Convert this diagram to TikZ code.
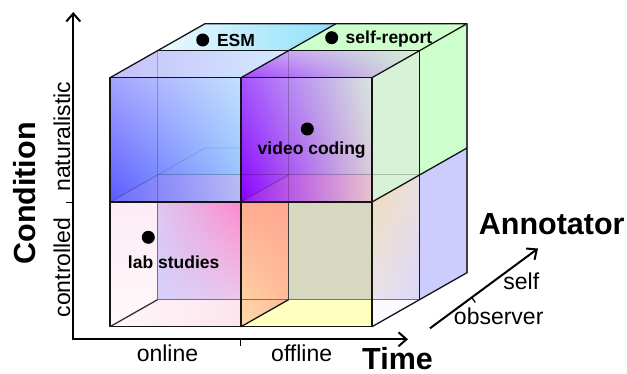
\documentclass[tikz,border=0pt]{standalone}
\usepackage{fontspec}
\setmainfont{Liberation Sans}
\usetikzlibrary{arrows.meta,shadings}
\definecolor{esmR}{HTML}{8EE0FA}
\definecolor{esmL}{HTML}{EEF9FF}
\definecolor{srgreen}{HTML}{CCFFCC}
\definecolor{lav}{HTML}{CCCCFF}
\definecolor{olive}{HTML}{D8D8C0}
\definecolor{yell}{HTML}{FFFFC0}
\definecolor{c1}{HTML}{C4C0FA}
\definecolor{c2}{HTML}{D4EAFF}
\definecolor{c3}{HTML}{A040FF}
\definecolor{c4}{HTML}{C890FF}
\definecolor{c5}{HTML}{D0F4D0}
\definecolor{c6}{HTML}{D8E8D8}
\definecolor{vgreen}{HTML}{D8F2D8}
\definecolor{r1}{HTML}{F0DCB4}
\definecolor{r2}{HTML}{ECE0E0}
\definecolor{r3}{HTML}{E8E4F8}
\definecolor{r4}{HTML}{D6D6FF}
\definecolor{b1}{HTML}{A4A4FF}
\definecolor{b2}{HTML}{C4E0FF}
\definecolor{b3}{HTML}{5A5AFF}
\definecolor{b4}{HTML}{8CC0FF}
\definecolor{bf1}{HTML}{7070FF}
\definecolor{bf2}{HTML}{C8B8F0}
\definecolor{v1}{HTML}{A455FF}
\definecolor{v2}{HTML}{D8E6DC}
\definecolor{v3}{HTML}{8800FF}
\definecolor{v4}{HTML}{D8C8D8}
\definecolor{vf1}{HTML}{A020F0}
\definecolor{vf2}{HTML}{D070C8}
\definecolor{vf3}{HTML}{EAC2CC}
\definecolor{l1}{HTML}{DCC8F2}
\definecolor{l2}{HTML}{FF88CC}
\definecolor{l3}{HTML}{D4D0FA}
\definecolor{l4}{HTML}{ECC8EC}
\definecolor{ls1}{HTML}{FCECF4}
\definecolor{ls2}{HTML}{FFF8FB}
\definecolor{lf1}{HTML}{FFF6FA}
\definecolor{lf2}{HTML}{FDE4EE}
\definecolor{s1}{HTML}{FFAA90}
\definecolor{s2}{HTML}{FFA890}
\definecolor{s3}{HTML}{FFDCAA}
\definecolor{s4}{HTML}{FFC09C}
\begin{document}
\begin{tikzpicture}[x=1pt,y=-1pt,
  edge/.style={draw=black!92,line width=1.3pt,line join=round},
  inner/.style={draw=black,line width=1pt,draw opacity=0.22},
  innerd/.style={draw=black!55,line width=1pt},
  axis/.style={line width=2pt,-{Straight Barb[length=8pt,width=14pt]}},
  dot/.style={circle,fill=black,inner sep=0pt,minimum size=13pt},
  lbl/.style={font=\fontsize{17.5}{20}\selectfont\bfseries,anchor=base,inner sep=0pt},
  ax/.style={font=\fontsize{23}{26}\selectfont,anchor=base,inner sep=0pt},
  ttl/.style={font=\fontsize{30.5}{34}\selectfont\bfseries,anchor=base,inner sep=0pt}]
\useasboundingbox (0,0) rectangle (627,374);
% ---------- back faces
\path[left color=esmL,right color=esmR] (157.5,50.7) -- (288.5,50.7) -- (336,23.7) -- (205,23.7) -- cycle;
\fill[srgreen] (288.5,50.7) -- (419.5,50.7) -- (467,23.7) -- (336,23.7) -- cycle;
\fill[srgreen] (419.5,50.7) -- (467,23.7) -- (467,148) -- (419.5,175) -- cycle;
\fill[lav] (419.5,175) -- (467,148) -- (467,272.7) -- (419.5,299.7) -- cycle;
% ---------- top faces of front row
\path[upper left=c1,lower left=c1,upper right=c2,lower right=c2] (110,77.7) -- (241,77.7) -- (288.5,50.7) -- (157.5,50.7) -- cycle;
\path[upper left=c4,lower left=c3,upper right=c5,lower right=c6] (241,77.7) -- (372,77.7) -- (419.5,50.7) -- (288.5,50.7) -- cycle;
% ---------- right faces of front row
\fill[vgreen] (372,77.7) -- (419.5,50.7) -- (419.5,175) -- (372,202) -- cycle;
\path[upper left=r1,upper right=r2,lower left=r3,lower right=r4] (372,202) -- (419.5,175) -- (419.5,299.7) -- (372,326.7) -- cycle;
\fill[white!98!blue] (372,299.7) -- (419.5,299.7) -- (372,326.7) -- cycle;
% ---------- blue box (naturalistic, online, observer)
\path[upper left=b1,upper right=b2,lower left=b3,lower right=b4] (110,77.7) rectangle (241,202);
\path[left color=bf1,right color=bf2,opacity=0.75] (110,202) -- (241,202) -- (241,175) -- (157.5,175) -- cycle;
% ---------- video coding box
\path[upper left=v1,upper right=v2,lower left=v3,lower right=v4] (241,77.7) rectangle (372,202);
\path[left color=vf1,middle color=vf2,right color=vf3,opacity=0.85] (241,202) -- (372,202) -- (372,175) -- (288.5,175) -- cycle;
% ---------- lab studies box
\path[upper left=l1,upper right=l2,lower left=l3,lower right=l4] (157.5,202) rectangle (241,299.7);
\path[top color=ls1,bottom color=ls2] (110,202) -- (157.5,202) -- (157.5,299.7) -- (110,326.7) -- cycle;
\path[left color=lf1,right color=lf2] (110,326.7) -- (241,326.7) -- (241,299.7) -- (157.5,299.7) -- cycle;
% ---------- offline controlled observer box
\path[upper left=s1,upper right=s2,lower left=s3,lower right=s4] (241,202) -- (288.5,202) -- (288.5,299.7) -- (241,326.7) -- cycle;
\fill[olive] (288.5,202) rectangle (372,299.7);
\fill[yell] (241,326.7) -- (372,326.7) -- (372,299.7) -- (288.5,299.7) -- cycle;
% ---------- inner (hidden) edges
\draw[inner] (157.5,50.7) -- (157.5,202);
\draw[inner] (288.5,50.7) -- (288.5,202);
\draw[inner] (157.5,175) -- (419.5,175);
\draw[inner] (110,202) -- (157.5,175);
\draw[inner] (241,202) -- (288.5,175);
\draw[draw=black,line width=0.8pt,draw opacity=0.12] (157.5,175) -- (205,148) -- (241,148);
\draw[innerd] (157.5,202) -- (157.5,299.7);
\draw[innerd] (157.5,299.7) -- (419.5,299.7);
\draw[draw=black!75,line width=1.1pt] (288.5,202) -- (288.5,299.7);
% ---------- visible edges
\draw[edge] (110,77.7) rectangle (372,326.7);
\draw[edge] (241,77.7) -- (241,326.7);
\draw[edge] (110,202) -- (372,202);
\draw[edge] (110,77.7) -- (205,23.7) -- (467,23.7) -- (372,77.7);
\draw[edge] (241,77.7) -- (336,23.7);
\draw[edge] (157.5,50.7) -- (419.5,50.7) -- (419.5,299.7);
\draw[edge,draw=black!75] (467,23.7) -- (467,272.7);
\draw[edge] (372,202) -- (467,148);
\draw[edge] (372,326.7) -- (467,272.7);
\draw[edge,draw=black!80] (110,326.7) -- (157.5,299.7);
\draw[edge] (241,326.7) -- (288.5,299.7);
% ---------- labels in the cube
\node[dot] (esmdot) at (202.7,40) {};
\node[lbl] (esm) at (236,46.7) {ESM};
\node[dot] (srdot) at (331.7,37.7) {};
\node[lbl] (sr) at (389,43.3) {self-report};
\node[dot] (vcdot) at (307.3,129) {};
\node[lbl] (vc) at (311.7,155) {video coding};
\node[dot] (labdot) at (148.3,237.3) {};
\node[lbl] (lab) at (173.7,268.3) {lab studies};
% ---------- axes
\coordinate (O) at (73.3,339.3);
\coordinate (ytip) at (73.3,12);
\coordinate (xtip) at (408,339.3);
\draw[line width=2pt,{Straight Barb[length=8pt,width=14pt]}-{Straight Barb[length=8pt,width=14pt]},line join=miter] (ytip) -- (O) -- (xtip);
\coordinate (yt1) at (66.3,202.7);
\coordinate (yt2) at (73.3,202.7);
\draw[line width=1.2pt] (yt1) -- (yt2);
\coordinate (xt1) at (240.5,339.3);
\coordinate (xt2) at (240.5,345.8);
\draw[line width=1.2pt] (xt1) -- (xt2);
\coordinate (a0) at (430,328.3);
\coordinate (a1) at (538,248.5);
\draw[axis] (a0) -- (a1);
\coordinate (at1) at (471.7,297.6);
\coordinate (at2) at (475.3,302.4);
\draw[line width=1.2pt] (at1) -- (at2);
% ---------- axis labels
\node[ttl,rotate=90] (cond) at (35,193.5) {Condition};
\node[ax,rotate=90] (nat) at (70,136.7) {naturalistic};
\node[ax,rotate=90] (ctrl) at (70,267.5) {controlled};
\node[ax] (onl) at (167.5,361.7) {online};
\node[ax] (offl) at (301.7,361.7) {offline};
\node[ttl] (time) at (397.5,369.5) {Time};
\node[ttl] (ann) at (551.7,235) {Annotator};
\node[ax] (self) at (521.3,290) {self};
\node[ax] (obs) at (498.7,325) {observer};
\end{tikzpicture}
\end{document}
